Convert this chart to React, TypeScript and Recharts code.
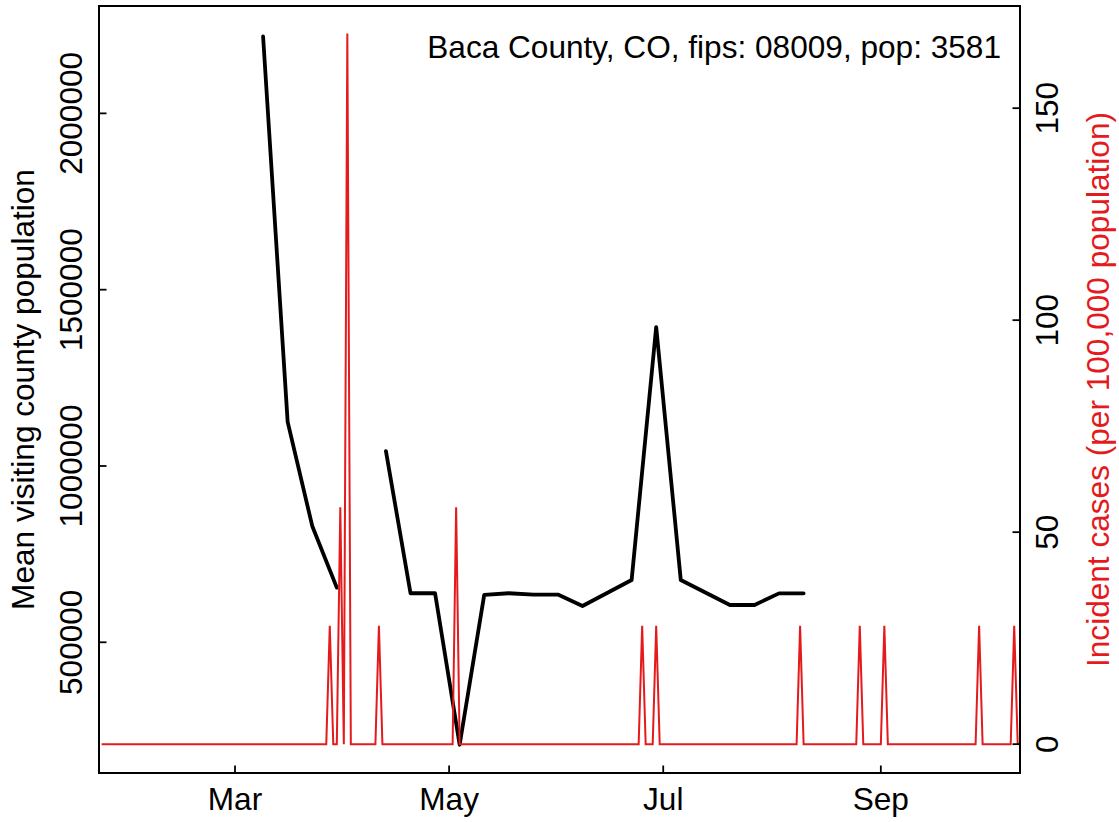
import React from 'react';
import { LineChart, Line, XAxis, YAxis, ReferenceArea } from 'recharts';

const FONT = '"Liberation Sans", Arial, Helvetica, sans-serif';
const RED = '#e41a1c';
const FS = 31.6;

const countyTitle = 'Baca County, CO, fips: 08009, pop: 3581';
const leftAxisTitle = 'Mean visiting county population';
const rightAxisTitle = 'Incident cases (per 100,000 population)';

const originDate = '2020-01-22';
const monthTickDates = ['2020-03-01', '2020-05-01', '2020-07-01', '2020-09-01'];
const monthTickLabels = ['Mar', 'May', 'Jul', 'Sep'];
const leftTicks = [500000, 1000000, 1500000, 2000000];
const rightTicks = [0, 50, 100, 150];

const visitWeeks = [
  '2020-03-09', '2020-03-16', '2020-03-23', '2020-03-30', '2020-04-06', '2020-04-13',
  '2020-04-20', '2020-04-27', '2020-05-04', '2020-05-11', '2020-05-18', '2020-05-25',
  '2020-06-01', '2020-06-08', '2020-06-15', '2020-06-22', '2020-06-29', '2020-07-06',
  '2020-07-13', '2020-07-20', '2020-07-27', '2020-08-03', '2020-08-10',
];
const visitPopulation = [
  2218000, 1125000, 830000, 655000, null, 1042000,
  639000, 639000, 209500, 634600, 639100, 635400,
  635400, 602800, 639700, 676600, 1394000, 676600,
  641100, 605700, 605700, 638800, 638800,
];

const caseStartDate = '2020-01-23';
const incidentPer100k = [
  0, 0, 0, 0, 0, 0, 0, 0, 0, 0,
  0, 0, 0, 0, 0, 0, 0, 0, 0, 0,
  0, 0, 0, 0, 0, 0, 0, 0, 0, 0,
  0, 0, 0, 0, 0, 0, 0, 0, 0, 0,
  0, 0, 0, 0, 0, 0, 0, 0, 0, 0,
  0, 0, 0, 0, 0, 0, 0, 0, 0, 0,
  0, 0, 0, 0, 0, 27.9, 0, 0, 55.9, 0,
  167.6, 0, 0, 0, 0, 0, 0, 0, 0, 27.9,
  0, 0, 0, 0, 0, 0, 0, 0, 0, 0,
  0, 0, 0, 0, 0, 0, 0, 0, 0, 0,
  0, 55.9, 0, 0, 0, 0, 0, 0, 0, 0,
  0, 0, 0, 0, 0, 0, 0, 0, 0, 0,
  0, 0, 0, 0, 0, 0, 0, 0, 0, 0,
  0, 0, 0, 0, 0, 0, 0, 0, 0, 0,
  0, 0, 0, 0, 0, 0, 0, 0, 0, 0,
  0, 0, 0, 0, 27.9, 0, 0, 0, 27.9, 0,
  0, 0, 0, 0, 0, 0, 0, 0, 0, 0,
  0, 0, 0, 0, 0, 0, 0, 0, 0, 0,
  0, 0, 0, 0, 0, 0, 0, 0, 0, 0,
  0, 0, 0, 0, 0, 0, 0, 0, 0, 27.9,
  0, 0, 0, 0, 0, 0, 0, 0, 0, 0,
  0, 0, 0, 0, 0, 0, 27.9, 0, 0, 0,
  0, 0, 0, 27.9, 0, 0, 0, 0, 0, 0,
  0, 0, 0, 0, 0, 0, 0, 0, 0, 0,
  0, 0, 0, 0, 0, 0, 0, 0, 0, 0,
  27.9, 0, 0, 0, 0, 0, 0, 0, 0, 0,
  27.9, 0,
];

const dayOf = (iso: string) =>
  Math.round((Date.parse(iso) - Date.parse(originDate)) / 86400000);

const visitData = visitWeeks.map((d, i) => ({ day: dayOf(d), visits: visitPopulation[i] }));
const caseStart = dayOf(caseStartDate);
const caseData = incidentPer100k.map((v, i) => ({ day: caseStart + i, cases: v }));
const tickDays = monthTickDates.map(dayOf);

const xDomain: [number, number] = [0.25, 262.65];
const leftDomain: [number, number] = [129300, 2304500];
const rightDomain: [number, number] = [-6.8, 174.1];

const TICK_LEN = 7.5;
const TICK_W = 1.8;

const XTick = (props: any) => {
  const { x, y, payload } = props;
  const i = tickDays.indexOf(payload.value);
  return (
    <g>
      <line x1={x} y1={y} x2={x} y2={y - TICK_LEN} stroke="#000" strokeWidth={TICK_W} />
      <text x={x} y={y + 37} textAnchor="middle" fontSize={FS} fontFamily={FONT} fill="#000">
        {monthTickLabels[i]}
      </text>
    </g>
  );
};

const LeftTick = (props: any) => {
  const { x, y, payload } = props;
  const bx = x - 17;
  return (
    <g>
      <line x1={x} y1={y} x2={x + TICK_LEN} y2={y} stroke="#000" strokeWidth={TICK_W} />
      <text x={bx} y={y} transform={`rotate(-90 ${bx} ${y})`} textAnchor="middle" fontSize={FS} fontFamily={FONT} fill="#000">
        {String(payload.value)}
      </text>
    </g>
  );
};

const RightTick = (props: any) => {
  const { x, y, payload } = props;
  const bx = x + 38;
  return (
    <g>
      <line x1={x} y1={y} x2={x - TICK_LEN} y2={y} stroke="#000" strokeWidth={TICK_W} />
      <text x={bx} y={y} transform={`rotate(-90 ${bx} ${y})`} textAnchor="middle" fontSize={FS} fontFamily={FONT} fill="#000">
        {String(payload.value)}
      </text>
    </g>
  );
};

export default function App() {
  const midY = (6 + 773) / 2;
  return (
    <div style={{ position: 'absolute', left: 0, top: 0, width: 1119, height: 822, background: '#fff' }}>
      <LineChart width={1119} height={822} margin={{ top: 6, right: 0, bottom: 0, left: 0 }}>
        <XAxis
          xAxisId="x"
          type="number"
          dataKey="day"
          domain={xDomain}
          allowDataOverflow
          ticks={tickDays}
          interval={0}
          height={49}
          axisLine={false}
          tickLine={false}
          tickSize={0}
          tickMargin={0}
          tick={(p: any) => <XTick {...p} />}
        />
        <YAxis
          yAxisId="l"
          orientation="left"
          type="number"
          width={99}
          domain={leftDomain}
          allowDataOverflow
          ticks={leftTicks}
          interval={0}
          axisLine={false}
          tickLine={false}
          tickSize={0}
          tickMargin={0}
          tick={(p: any) => <LeftTick {...p} />}
        />
        <YAxis
          yAxisId="r"
          orientation="right"
          type="number"
          width={99}
          domain={rightDomain}
          allowDataOverflow
          ticks={rightTicks}
          interval={0}
          axisLine={false}
          tickLine={false}
          tickSize={0}
          tickMargin={0}
          tick={(p: any) => <RightTick {...p} />}
        />
        <ReferenceArea
          xAxisId="x"
          yAxisId="l"
          x1={xDomain[0]}
          x2={xDomain[1]}
          y1={leftDomain[0]}
          y2={leftDomain[1]}
          fill="none"
          fillOpacity={0}
          stroke="#000"
          strokeWidth={2}
          ifOverflow="visible"
        />
        <Line
          xAxisId="x"
          yAxisId="l"
          data={visitData}
          dataKey="visits"
          type="linear"
          stroke="#000"
          strokeWidth={3.8}
          strokeLinejoin="round"
          strokeLinecap="round"
          dot={false}
          activeDot={false}
          connectNulls={false}
          isAnimationActive={false}
        />
        <Line
          xAxisId="x"
          yAxisId="r"
          data={caseData}
          dataKey="cases"
          type="linear"
          stroke={RED}
          strokeWidth={2}
          dot={false}
          activeDot={false}
          isAnimationActive={false}
        />
      </LineChart>
      <svg
        width={1119}
        height={822}
        style={{ position: 'absolute', left: 0, top: 0, pointerEvents: 'none' }}
      >
        <text x={1001} y={58} textAnchor="end" fontSize={FS} fontFamily={FONT} fill="#000">
          {countyTitle}
        </text>
        <text x={33.5} y={midY} transform={`rotate(-90 33.5 ${midY})`} textAnchor="middle" fontSize={FS} fontFamily={FONT} fill="#000">
          {leftAxisTitle}
        </text>
        <text x={1109} y={midY} transform={`rotate(-90 1109 ${midY})`} textAnchor="middle" fontSize={FS} fontFamily={FONT} fill={RED}>
          {rightAxisTitle}
        </text>
      </svg>
    </div>
  );
}
